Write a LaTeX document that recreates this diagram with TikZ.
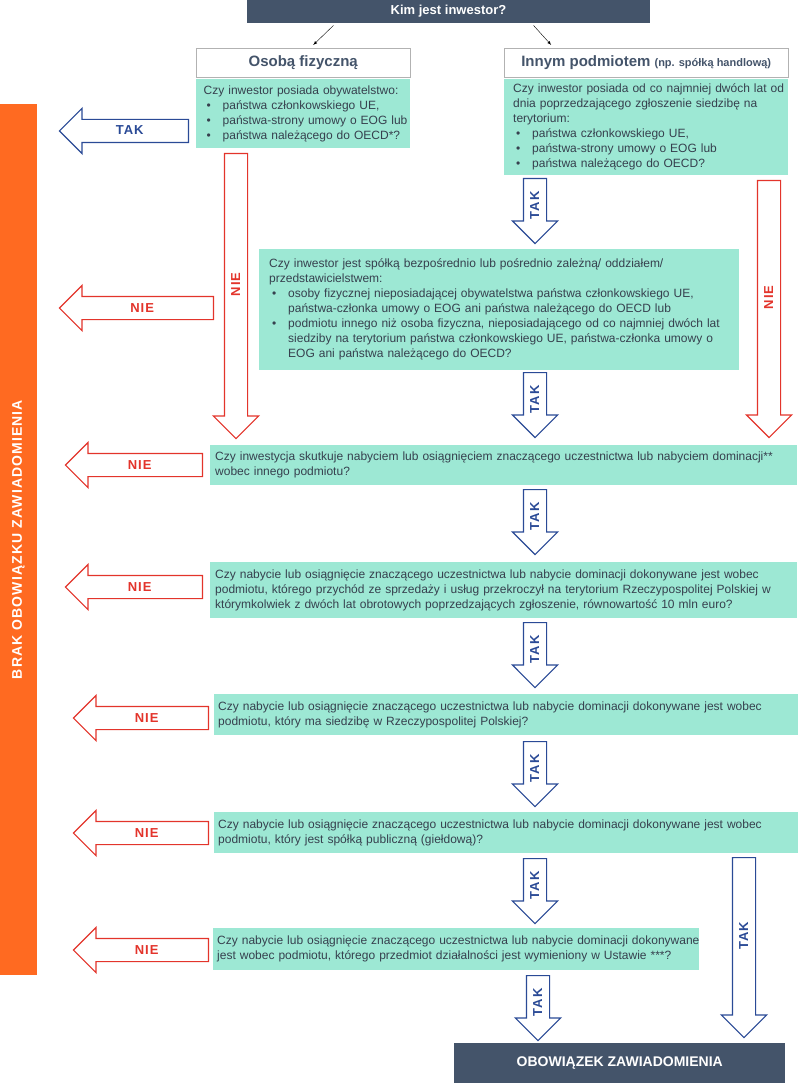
\documentclass[tikz,border=0pt]{standalone}
\usepackage{fontspec}
\setmainfont{Liberation Sans}
\newfontfamily\lblfont{Liberation Sans}[LetterSpace=8]
\usetikzlibrary{shapes.arrows,positioning,arrows}

\definecolor{slate}{HTML}{44546A}
\definecolor{mint}{HTML}{9DE8D4}
\definecolor{boxtext}{HTML}{36404E}
\definecolor{orangebar}{HTML}{FF6A21}
\definecolor{niered}{HTML}{E3342B}
\definecolor{takblue}{HTML}{2A4A96}

\newcommand{\bul}[1]{\mbox{\hspace*{3pt}\makebox[16pt][l]{\textbullet}#1}}
\newcommand{\ind}[1]{\mbox{\hspace*{19pt}#1}}

\tikzset{
  every node/.style={font=\fontsize{12}{15}\selectfont},
  question/.style={fill=mint, text=boxtext, align=left, anchor=north west, inner ysep=0pt},
  header/.style={draw=gray!60, fill=white, text=slate, anchor=north west, inner sep=0pt,
    minimum height=29pt, font=\fontsize{15}{18}\selectfont\bfseries},
  darkbox/.style={fill=slate, text=white, inner sep=0pt, font=\fontsize{13}{15}\selectfont\bfseries},
  blockarr/.style={single arrow, fill=white, line width=1.2pt, minimum width=44pt,
    single arrow head extend=11pt, inner xsep=0pt, inner ysep=7pt, text height=8pt, text depth=0pt,
    shape border rotate=180, anchor=tail, font=\lblfont\fontsize{13}{13}\selectfont\bfseries},
  nieleft/.style={blockarr, draw=niered, text=niered},
  takleft/.style={blockarr, draw=takblue, text=takblue},
  takdown/.style={blockarr, draw=takblue, text=takblue, rotate=90},
  niedown/.style={blockarr, draw=niered, text=niered, rotate=90}
}

\begin{document}
\begin{tikzpicture}[x=1pt,y=-1pt,>=latex]
\useasboundingbox (0,0) rectangle (800,1086);

\node[darkbox, anchor=north, minimum width=403pt, minimum height=24pt] (kim) at (448.5,-1) {Kim jest inwestor?};
\node[header, minimum width=214pt] (osoba) at (196,48) {Osobą fizyczną};
\node[header, minimum width=284pt] (inny) at (504,48) {Innym podmiotem {\fontsize{11}{13}\selectfont (np. spółką handlową)}};
\draw[->] ([xshift=-115pt,yshift=-2pt]kim.south) -- ([xshift=10pt,yshift=3pt]osoba.north);
\draw[->] ([xshift=85pt,yshift=-2pt]kim.south) -- ([xshift=-95pt,yshift=3pt]inny.north);

\node[question, minimum width=214pt, minimum height=69pt, text width=199pt, inner xsep=7.5pt] (q1) at (196,79)
  {\mbox{Czy inwestor posiada obywatelstwo:}\\
   \bul{państwa członkowskiego UE,}\\
   \bul{państwa-strony umowy o EOG lub}\\
   \bul{państwa należącego do OECD*?}};
\node[question, minimum width=284pt, minimum height=96pt, text width=266pt, inner xsep=9pt] (q2) at (504,79)
  {\mbox{Czy inwestor posiada od co najmniej dwóch lat od}\\
   \mbox{dnia poprzedzającego zgłoszenie siedzibę na}\\
   terytorium:\\
   \bul{państwa członkowskiego UE,}\\
   \bul{państwa-strony umowy o EOG lub}\\
   \bul{państwa należącego do OECD?}};
\node[question, minimum width=480pt, minimum height=121pt, text width=460pt, inner xsep=10pt] (q3) at (259,249)
  {\mbox{Czy inwestor jest spółką bezpośrednio lub pośrednio zależną/ oddziałem/}\\
   przedstawicielstwem:\\
   \bul{osoby fizycznej nieposiadającej obywatelstwa państwa członkowskiego UE,}\\
   \ind{państwa-członka umowy o EOG ani państwa należącego do OECD lub}\\
   \bul{podmiotu innego niż osoba fizyczna, nieposiadającego od co najmniej dwóch lat}\\
   \ind{siedziby na terytorium państwa członkowskiego UE, państwa-członka umowy o}\\
   \ind{EOG ani państwa należącego do OECD?}};
\node[question, minimum width=587pt, minimum height=40pt, text width=577pt, inner xsep=5pt] (q4) at (210,445)
  {\mbox{Czy inwestycja skutkuje nabyciem lub osiągnięciem znaczącego uczestnictwa lub nabyciem dominacji**}\\
   wobec innego podmiotu?};
\node[question, minimum width=587pt, minimum height=56pt, text width=577pt, inner xsep=5pt] (q5) at (210,562)
  {\mbox{Czy nabycie lub osiągnięcie znaczącego uczestnictwa lub nabycie dominacji dokonywane jest wobec}\\
   \mbox{podmiotu, którego przychód ze sprzedaży i usług przekroczył na terytorium Rzeczypospolitej Polskiej w}\\
   \mbox{którymkolwiek z dwóch lat obrotowych poprzedzających zgłoszenie, równowartość 10 mln euro?}};
\node[question, minimum width=584pt, minimum height=41pt, text width=576pt, inner xsep=4pt] (q6) at (214,694)
  {\mbox{Czy nabycie lub osiągnięcie znaczącego uczestnictwa lub nabycie dominacji dokonywane jest wobec}\\
   podmiotu, który ma siedzibę w Rzeczypospolitej Polskiej?};
\node[question, minimum width=584pt, minimum height=41pt, text width=576pt, inner xsep=4pt] (q7) at (214,812)
  {\mbox{Czy nabycie lub osiągnięcie znaczącego uczestnictwa lub nabycie dominacji dokonywane jest wobec}\\
   podmiotu, który jest spółką publiczną (giełdową)?};
\node[question, minimum width=486pt, minimum height=42pt, text width=478pt, inner xsep=4pt] (q8) at (213,928)
  {\mbox{Czy nabycie lub osiągnięcie znaczącego uczestnictwa lub nabycie dominacji dokonywane}\\
   \mbox{jest wobec podmiotu, którego przedmiot działalności jest wymieniony w Ustawie ***?}};

\node[darkbox, anchor=north west, minimum width=331pt, minimum height=40pt, font=\fontsize{14}{16}\selectfont\bfseries] (obow) at (454,1043) {OBOWIĄZEK ZAWIADOMIENIA};

\node[fill=orangebar, text=white, rotate=90, minimum width=871pt, minimum height=37pt, inner sep=0pt,
  font=\fontsize{14}{16}\selectfont\lblfont\bfseries] (brak) at (18.5,539.5) {BRAK OBOWIĄZKU ZAWIADOMIENIA};

\node[takleft, minimum height=129pt] (tak1) at (189,131) {TAK};
\node[nieleft, minimum height=154pt] (nie2) at (214,308) {NIE};
\node[nieleft, minimum height=137pt] (nie3) at (203,465) {NIE};
\node[nieleft, minimum height=137pt] (nie4) at (203,587) {NIE};
\node[nieleft, minimum height=135pt] (nie5) at (209,718) {NIE};
\node[nieleft, minimum height=135pt] (nie6) at (209,833) {NIE};
\node[nieleft, minimum height=135pt] (nie7) at (209,950) {NIE};

\node[niedown, minimum height=285pt] (nieL) at (236,153) {\hspace*{12pt}NIE};
\node[niedown, minimum height=257pt] (nieR) at (769,180) {\hspace*{12pt}NIE};
\node[takdown, minimum height=65pt] (tak2) at (535,178) {TAK};
\node[takdown, minimum height=65pt] (tak3) at (535,372) {TAK};
\node[takdown, minimum height=65pt] (tak4) at (535,489) {TAK};
\node[takdown, minimum height=65pt] (tak5) at (535,622) {TAK};
\node[takdown, minimum height=65pt] (tak6) at (535,741) {TAK};
\node[takdown, minimum height=65pt] (tak7) at (535,858) {TAK};
\node[takdown, minimum height=180pt] (takR) at (744,857) {\hspace*{12pt}TAK};
\node[takdown, minimum height=65pt] (tak8) at (538,975) {TAK};
\end{tikzpicture}
\end{document}
